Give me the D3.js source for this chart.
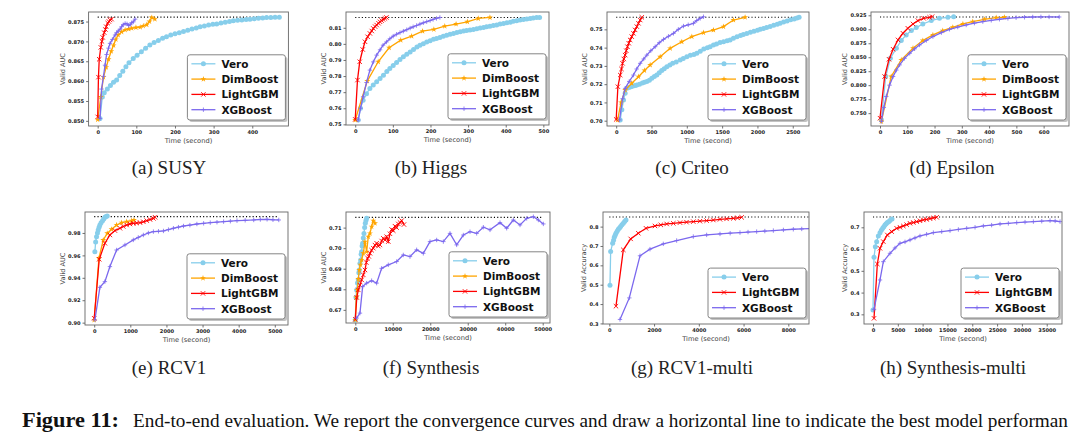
<!DOCTYPE html>
<html><head><meta charset="utf-8">
<script src="https://cdn.jsdelivr.net/npm/d3@7/dist/d3.min.js"></script>
<style>body{margin:0;background:#fff} svg{display:block}</style>
</head><body><svg id="fig" width="1080" height="438"></svg>
<script>
// ---------- series names & colours ----------
const seriesNames = ["Vero", "DimBoost", "LightGBM", "XGBoost"];
const seriesColors = {Vero: "#87CEEB", DimBoost: "#FFA500", LightGBM: "#FF0000", XGBoost: "#7B68EE"};

// ---------- (a) SUSY ----------
const susyVero = [[6,0.8506],[12,0.8560],[17,0.8571],[25,0.8580],[33,0.8589],[41,0.8597],[49,0.8603],[57,0.8614],[65,0.8625],[73,0.8636],[81,0.8646],[92,0.8657],[102,0.8665],[113,0.8674],[124,0.8683],[135,0.8691],[146,0.8697],[157,0.8702],[168,0.8708],[178,0.8712],[189,0.8716],[200,0.8719],[211,0.8722],[222,0.8725],[233,0.8728],[244,0.8731],[255,0.8734],[265,0.8737],[276,0.8739],[287,0.8741],[298,0.8743],[308,0.8744],[319,0.8746],[330,0.8748],[341,0.8750],[351,0.8752],[362,0.8753],[373,0.8754],[384,0.8755],[394,0.8756],[405,0.8757],[416,0.8758],[427,0.8759],[437,0.8760],[448,0.8760],[459,0.8761],[470,0.8761]];
const susyDim = [[0,0.8503],[8,0.8560],[15,0.8610],[22,0.8635],[28,0.8655],[35,0.8675],[41,0.8690],[47,0.8705],[53,0.8716],[62,0.8724],[71,0.8729],[80,0.8731],[88,0.8733],[99,0.8735],[110,0.8736],[118,0.8739],[127,0.8742],[134,0.8750],[140,0.8760],[148,0.8756]];
const susyLgb = [[0,0.8510],[2,0.8610],[4,0.8655],[8,0.8685],[11,0.8700],[13,0.8710],[17,0.8722],[20,0.8730],[22,0.8737],[26,0.8746],[29,0.8750],[32,0.8754],[36,0.8756]];
const susyXgb = [[6,0.8506],[10,0.8580],[15,0.8612],[19,0.8640],[23,0.8667],[28,0.8683],[32,0.8695],[38,0.8705],[45,0.8716],[49,0.8722],[53,0.8726],[58,0.8731],[62,0.8737],[66,0.8742],[71,0.8745],[76,0.8744],[80,0.8740],[84,0.8742],[88,0.8747],[92,0.8749],[97,0.8756]];
const susyXTicks = [0,100,200,300,400];
const susyYTicks = [0.850,0.855,0.860,0.865,0.870,0.875];

// ---------- (b) Higgs ----------
const higgsVero = [[8,0.7527],[14,0.7600],[21,0.7650],[30,0.7690],[39,0.7723],[48,0.7745],[57,0.7765],[66,0.7785],[75,0.7805],[84,0.7828],[92,0.7847],[101,0.7866],[110,0.7885],[119,0.7903],[128,0.7920],[137,0.7935],[146,0.7950],[155,0.7965],[164,0.7980],[172,0.7992],[181,0.8001],[190,0.8012],[199,0.8020],[208,0.8028],[216,0.8034],[225,0.8040],[234,0.8048],[243,0.8053],[252,0.8060],[261,0.8065],[270,0.8070],[279,0.8075],[288,0.8080],[296,0.8083],[305,0.8086],[314,0.8090],[323,0.8094],[332,0.8099],[341,0.8102],[349,0.8106],[358,0.8110],[367,0.8114],[376,0.8118],[385,0.8123],[394,0.8127],[403,0.8131],[412,0.8135],[420,0.8140],[429,0.8144],[438,0.8148],[447,0.8151],[456,0.8155],[465,0.8158],[473,0.8161],[482,0.8164],[490,0.8164]];
const higgsDim = [[0,0.7527],[32,0.7769],[61,0.7889],[90,0.7976],[121,0.8023],[150,0.8048],[179,0.8079],[209,0.8090],[238,0.8110],[268,0.8123],[298,0.8137],[327,0.8158],[358,0.8164]];
const higgsLgb = [[0,0.7531],[6,0.7775],[12,0.7889],[20,0.7965],[26,0.8013],[33,0.8044],[39,0.8065],[44,0.8080],[48,0.8096],[53,0.8107],[57,0.8117],[62,0.8128],[66,0.8137],[70,0.8145],[74,0.8152],[79,0.8158],[83,0.8164]];
const higgsXgb = [[8,0.7527],[14,0.7600],[21,0.7671],[30,0.7760],[39,0.7837],[48,0.7888],[57,0.7930],[66,0.7963],[74,0.7992],[83,0.8012],[92,0.8032],[101,0.8048],[110,0.8060],[119,0.8070],[128,0.8079],[137,0.8088],[146,0.8098],[154,0.8106],[163,0.8114],[172,0.8123],[181,0.8131],[190,0.8138],[199,0.8145],[207,0.8152],[216,0.8158],[225,0.8164]];
const higgsXTicks = [0,100,200,300,400,500];
const higgsYTicks = [0.75,0.76,0.77,0.78,0.79,0.80,0.81];

// ---------- (c) Criteo ----------
const criteoVero = [[57,0.7004],[80,0.7060],[104,0.7113],[127,0.7150],[151,0.7177],[180,0.7182],[210,0.7186],[240,0.7190],[270,0.7193],[292,0.7195],[330,0.7200],[370,0.7206],[400,0.7210],[434,0.7214],[470,0.7222],[505,0.7232],[540,0.7242],[575,0.7250],[610,0.7262],[645,0.7275],[680,0.7285],[717,0.7296],[760,0.7305],[800,0.7315],[850,0.7322],[906,0.7332],[950,0.7340],[1000,0.7350],[1050,0.7358],[1100,0.7363],[1142,0.7369],[1190,0.7380],[1240,0.7392],[1290,0.7400],[1330,0.7405],[1377,0.7414],[1420,0.7420],[1470,0.7428],[1520,0.7432],[1570,0.7438],[1613,0.7442],[1660,0.7452],[1710,0.7460],[1760,0.7466],[1800,0.7472],[1849,0.7478],[1900,0.7484],[1950,0.7490],[2000,0.7495],[2040,0.7500],[2085,0.7505],[2130,0.7510],[2180,0.7516],[2230,0.7522],[2280,0.7528],[2321,0.7533],[2370,0.7540],[2420,0.7546],[2470,0.7552],[2520,0.7557],[2560,0.7562],[2590,0.7566]];
const criteoDim = [[19,0.7004],[70,0.7100],[127,0.7168],[220,0.7205],[316,0.7241],[400,0.7275],[481,0.7305],[623,0.7350],[764,0.7396],[929,0.7432],[1071,0.7460],[1236,0.7482],[1377,0.7496],[1519,0.7515],[1660,0.7551],[1825,0.7566]];
const criteoLgb = [[0,0.7007],[24,0.7186],[57,0.7250],[75,0.7283],[90,0.7314],[108,0.7338],[127,0.7359],[143,0.7383],[160,0.7405],[178,0.7424],[198,0.7442],[220,0.7460],[245,0.7478],[268,0.7497],[292,0.7515],[316,0.7533],[340,0.7551],[363,0.7566]];
const criteoXgb = [[47,0.7004],[90,0.7120],[127,0.7177],[185,0.7215],[245,0.7250],[290,0.7283],[340,0.7314],[390,0.7338],[434,0.7359],[490,0.7383],[552,0.7405],[610,0.7427],[670,0.7445],[740,0.7462],[811,0.7478],[880,0.7500],[953,0.7518],[1020,0.7525],[1094,0.7533],[1140,0.7548],[1189,0.7560],[1236,0.7569]];
const criteoXTicks = [0,500,1000,1500,2000,2500];
const criteoYTicks = [0.70,0.71,0.72,0.73,0.74,0.75];

// ---------- (d) Epsilon ----------
const epsVero = [[5,0.7380],[21,0.8155],[38,0.8482],[60,0.8661],[78,0.8798],[96,0.8899],[115,0.8976],[133,0.9030],[157,0.9095],[188,0.9155],[218,0.9196],[249,0.9214],[270,0.9226]];
const epsDim = [[5,0.7350],[41,0.8155],[78,0.8452],[121,0.8661],[157,0.8798],[194,0.8899],[230,0.8976],[267,0.9036],[304,0.9095],[340,0.9137],[383,0.9179],[426,0.9208],[456,0.9214]];
const epsLgb = [[0,0.7410],[17,0.8155],[33,0.8464],[48,0.8643],[66,0.8810],[84,0.8929],[102,0.9018],[121,0.9095],[139,0.9155],[160,0.9196],[182,0.9214],[191,0.9226]];
const epsXgb = [[5,0.7350],[14,0.7600],[23,0.7798],[35,0.8000],[48,0.8155],[60,0.8270],[72,0.8363],[90,0.8480],[109,0.8571],[127,0.8650],[145,0.8720],[170,0.8800],[194,0.8870],[225,0.8940],[255,0.9000],[285,0.9040],[316,0.9077],[346,0.9110],[377,0.9137],[408,0.9160],[438,0.9179],[469,0.9195],[499,0.9208],[530,0.9215],[560,0.9220],[590,0.9222],[620,0.9221],[657,0.9220]];
const epsXTicks = [0,100,200,300,400,500,600];
const epsYTicks = [0.750,0.775,0.800,0.825,0.850,0.875,0.900,0.925];

// ---------- (e) RCV1 ----------
const rcvVero = [[18,0.9633],[40,0.9720],[65,0.9767],[90,0.9800],[111,0.9827],[135,0.9850],[157,0.9871],[190,0.9890],[231,0.9910],[265,0.9925],[296,0.9940],[330,0.9947],[361,0.9952]];
const rcvDim = [[0,0.9024],[130,0.9574],[250,0.9737],[361,0.9797],[481,0.9833],[620,0.9871],[759,0.9892],[898,0.9901],[1037,0.9910],[1100,0.9915]];
const rcvLgb = [[0,0.9039],[139,0.9565],[296,0.9708],[435,0.9782],[574,0.9821],[713,0.9842],[805,0.9858],[898,0.9871],[990,0.9880],[1083,0.9886],[1176,0.9889],[1269,0.9892],[1360,0.9900],[1454,0.9910],[1545,0.9920],[1639,0.9930],[1685,0.9940]];
const rcvXgb = [[19,0.9024],[157,0.9315],[296,0.9366],[435,0.9500],[620,0.9648],[852,0.9693],[1083,0.9738],[1220,0.9760],[1361,0.9782],[1500,0.9800],[1639,0.9812],[1780,0.9815],[1917,0.9818],[2055,0.9830],[2194,0.9842],[2333,0.9852],[2472,0.9862],[2650,0.9870],[2843,0.9880],[3030,0.9886],[3213,0.9892],[3400,0.9896],[3583,0.9901],[3770,0.9905],[3954,0.9910],[4180,0.9913],[4417,0.9916],[4600,0.9920],[4787,0.9922],[4950,0.9918],[5111,0.9916]];
const rcvXTicks = [0,1000,2000,3000,4000,5000];
const rcvYTicks = [0.90,0.92,0.94,0.96,0.98];

// ---------- (f) Synthesis ----------
const synVero = [[0,0.6651],[178,0.6760],[356,0.6797],[580,0.6830],[800,0.6846],[940,0.6880],[1068,0.6894],[1250,0.6925],[1423,0.6943],[1560,0.6970],[1690,0.6983],[1820,0.7010],[1957,0.7024],[2130,0.7050],[2313,0.7072],[2490,0.7100],[2669,0.7121],[2850,0.7135],[3025,0.7145]];
const synDim = [[0,0.6651],[267,0.6760],[534,0.6797],[800,0.6850],[1068,0.6894],[1380,0.6920],[1690,0.6943],[2135,0.6975],[2580,0.7032],[3025,0.6983],[3470,0.7056],[3915,0.7072],[4359,0.7105],[4804,0.7134],[5249,0.7121]];
const synLgb = [[0,0.6654],[400,0.6760],[800,0.6797],[1250,0.6820],[1690,0.6846],[2135,0.6870],[2580,0.6894],[2940,0.6930],[3292,0.6951],[3600,0.6960],[3915,0.6975],[4359,0.6990],[4804,0.7000],[5249,0.7015],[5694,0.7024],[6140,0.7010],[6584,0.7016],[7028,0.7035],[7473,0.7048],[7918,0.7040],[8363,0.7056],[8808,0.7032],[9250,0.7070],[9698,0.7091],[10140,0.7085],[10587,0.7107],[11030,0.7100],[11477,0.7118],[11920,0.7125],[12367,0.7134],[12989,0.7115]];
const synXgb = [[356,0.6660],[1246,0.6684],[1957,0.6813],[3025,0.6830],[4359,0.6842],[5694,0.6830],[7028,0.6902],[8808,0.6919],[11032,0.6935],[12811,0.6967],[14591,0.6959],[16370,0.6992],[18149,0.6975],[19929,0.7032],[21708,0.7040],[23488,0.7032],[25267,0.7072],[27046,0.7016],[28826,0.7064],[30605,0.7080],[32384,0.7072],[34164,0.7102],[35943,0.7089],[38612,0.7124],[40391,0.7097],[42171,0.7137],[43950,0.7113],[45730,0.7145],[47509,0.7153],[48844,0.7137],[50178,0.7118]];
const synXTicks = [0,10000,20000,30000,40000,50000];
const synYTicks = [0.67,0.68,0.69,0.70,0.71];

// ---------- (g) RCV1-multi ----------
const rcvmVero = [[30,0.4970],[60,0.6716],[149,0.7144],[190,0.7300],[223,0.7452],[260,0.7560],[298,0.7658],[350,0.7760],[402,0.7863],[455,0.7930],[507,0.8000],[565,0.8090],[626,0.8171],[685,0.8260],[745,0.8342]];
const rcvmLgb = [[298,0.3890],[626,0.6801],[954,0.7366],[1296,0.7658],[1639,0.7914],[2041,0.8034],[2300,0.8090],[2563,0.8137],[2860,0.8170],[3159,0.8205],[3450,0.8230],[3754,0.8257],[4050,0.8280],[4350,0.8308],[4650,0.8340],[4946,0.8377],[5240,0.8400],[5542,0.8428],[5730,0.8450],[5914,0.8479]];
const rcvmXgb = [[477,0.3205],[894,0.4318],[1371,0.6493],[1818,0.6836],[2413,0.7110],[3009,0.7281],[3754,0.7486],[4350,0.7572],[4946,0.7623],[5400,0.7660],[5840,0.7692],[6200,0.7720],[6585,0.7743],[6950,0.7770],[7330,0.7795],[7780,0.7830],[8223,0.7863],[8600,0.7880],[8968,0.7897]];
const rcvmXTicks = [0,2000,4000,6000,8000];
const rcvmYTicks = [0.3,0.4,0.5,0.6,0.7,0.8];

// ---------- (h) Synthesis-multi ----------
const synmVero = [[0,0.3200],[202,0.5621],[470,0.6111],[739,0.6341],[1075,0.6602],[1411,0.6755],[1680,0.6860],[1948,0.6954],[2180,0.7030],[2418,0.7107],[2650,0.7160],[2889,0.7215],[3150,0.7260],[3426,0.7307],[3829,0.7383]];
const synmLgb = [[202,0.2816],[873,0.5314],[1411,0.6034],[2083,0.6341],[2889,0.6648],[3762,0.6801],[4770,0.6954],[5440,0.7000],[6113,0.7061],[6780,0.7120],[7457,0.7184],[8130,0.7220],[8800,0.7261],[9470,0.7300],[10144,0.7337],[10810,0.7360],[11488,0.7398],[12160,0.7430],[12831,0.7460]];
const synmXgb = [[202,0.3230],[1411,0.4579],[2083,0.5421],[3426,0.5805],[4430,0.6050],[5441,0.6264],[6450,0.6330],[7457,0.6418],[8460,0.6510],[9472,0.6602],[10800,0.6680],[12159,0.6755],[13840,0.6800],[15518,0.6847],[17200,0.6900],[18877,0.6954],[20560,0.7000],[22236,0.7061],[23900,0.7100],[25595,0.7153],[27270,0.7180],[28954,0.7215],[30630,0.7240],[32313,0.7261],[34000,0.7280],[35672,0.7307],[36700,0.7290],[37687,0.7261]];
const synmXTicks = [0,5000,10000,15000,20000,25000,30000,35000];
const synmYTicks = [0.3,0.4,0.5,0.6,0.7];

// ---------- best-performance reference values ----------
const bestValues = {a:0.8761, b:0.8164, c:0.7566, d:0.9220, e:0.9946, f:0.7150, g:0.8500, h:0.7470};

const captionTexts = ["(a) SUSY","(b) Higgs","(c) Criteo","(d) Epsilon","(e) RCV1","(f) Synthesis","(g) RCV1-multi","(h) Synthesis-multi"];
const figureLabel = "Figure 11:";
const figureText = "End-to-end evaluation. We report the convergence curves and draw a horizontal line to indicate the best model performan";

// ---------- panel layout (positions/sizes) ----------
const panels = [
  {id:"a", box:[88.6,288.4,12,126], capX:169, xDom:[-23.5,493.5], yDom:[0.8487,0.8774], yFmt:".3f", ylabel:"Valid AUC",
   xTicks:susyXTicks, yTicks:susyYTicks, series:{Vero:susyVero, DimBoost:susyDim, LightGBM:susyLgb, XGBoost:susyXgb}},
  {id:"b", box:[346,549,12,125], capX:431, xDom:[-24.5,515], yDom:[0.7496,0.8198], yFmt:".2f", ylabel:"Valid AUC",
   xTicks:higgsXTicks, yTicks:higgsYTicks, series:{Vero:higgsVero, DimBoost:higgsDim, LightGBM:higgsLgb, XGBoost:higgsXgb}},
  {id:"c", box:[607,809,12,126], capX:692, xDom:[-130,2730], yDom:[0.6971,0.7595], yFmt:".2f", ylabel:"Valid AUC",
   xTicks:criteoXTicks, yTicks:criteoYTicks, series:{Vero:criteoVero, DimBoost:criteoDim, LightGBM:criteoLgb, XGBoost:criteoXgb}},
  {id:"d", box:[871,1069,12,126], capX:952, xDom:[-33,693], yDom:[0.7270,0.9309], yFmt:".3f", ylabel:"Valid AUC",
   xTicks:epsXTicks, yTicks:epsYTicks, series:{Vero:epsVero, DimBoost:epsDim, LightGBM:epsLgb, XGBoost:epsXgb}},
  {id:"e", box:[85,288,212,325], capX:169, xDom:[-255,5366], yDom:[0.8979,0.9987], yFmt:".2f", ylabel:"Valid AUC",
   xTicks:rcvXTicks, yTicks:rcvYTicks, series:{Vero:rcvVero, DimBoost:rcvDim, LightGBM:rcvLgb, XGBoost:rcvXgb}},
  {id:"f", box:[346,550,212,323], capX:431, xDom:[-2481,51950], yDom:[0.6636,0.7176], yFmt:".2f", ylabel:"Valid AUC",
   xTicks:synXTicks, yTicks:synYTicks, series:{Vero:synVero, DimBoost:synDim, LightGBM:synLgb, XGBoost:synXgb}},
  {id:"g", box:[603,809,212,324], capX:692, xDom:[-282,8924], yDom:[0.297,0.8755], yFmt:".1f", ylabel:"Valid Accuracy",
   xTicks:rcvmXTicks, yTicks:rcvmYTicks, series:{Vero:rcvmVero, LightGBM:rcvmLgb, XGBoost:rcvmXgb}},
  {id:"h", box:[864,1062,212,324], capX:953, xDom:[-1813,38080], yDom:[0.2556,0.7703], yFmt:".1f", ylabel:"Valid Accuracy",
   xTicks:synmXTicks, yTicks:synmYTicks, series:{Vero:synmVero, LightGBM:synmLgb, XGBoost:synmXgb}}
];

const svg = d3.select("#fig");
svg.append("rect").attr("width",1080).attr("height",438).attr("fill","#fff");
const defs = svg.append("defs");

function drawMarker(sel, name, cx, cy) {
  const c = seriesColors[name];
  if (name === "Vero") {
    sel.append("circle").attr("cx",cx).attr("cy",cy).attr("r",2.5).attr("fill",c);
  } else if (name === "DimBoost") {
    sel.append("path").attr("transform",`translate(${cx},${cy})`)
      .attr("d", d3.symbol(d3.symbolStar, 11)()).attr("fill",c);
  } else if (name === "LightGBM") {
    sel.append("path").attr("transform",`translate(${cx},${cy})`)
      .attr("d","M-2.2,-2.2L2.2,2.2M-2.2,2.2L2.2,-2.2").attr("stroke",c).attr("stroke-width",0.9).attr("fill","none");
  } else {
    sel.append("path").attr("transform",`translate(${cx},${cy})`)
      .attr("d","M-2.2,0H2.2M0,-2.2V2.2").attr("stroke",c).attr("stroke-width",0.8).attr("fill","none");
  }
}

function styleAxis(g) {
  g.select(".domain").remove();
  g.selectAll(".tick line").attr("stroke","#333").attr("stroke-width",0.7);
  g.selectAll(".tick text").attr("font-family","DejaVu Sans").attr("font-weight","bold")
    .attr("font-size","5.1px").attr("fill","#222");
}

panels.forEach((p, i) => {
  const [L, R, T, B] = p.box;
  const x = d3.scaleLinear().domain(p.xDom).range([L, R]);
  const y = d3.scaleLinear().domain(p.yDom).range([B, T]);
  const names = seriesNames.filter(n => p.series[n]);
  const g = svg.append("g");

  defs.append("clipPath").attr("id","clip"+p.id)
    .append("rect").attr("x",L).attr("y",T).attr("width",R-L).attr("height",B-T);

  // axes
  g.append("g").attr("transform",`translate(0,${B})`)
    .call(d3.axisBottom(x).tickValues(p.xTicks).tickSize(2.5).tickPadding(2).tickFormat(d3.format("d")))
    .call(styleAxis);
  const yAx = g.append("g").attr("transform",`translate(${L},0)`)
    .call(d3.axisLeft(y).tickValues(p.yTicks).tickSize(2.5).tickPadding(2).tickFormat(d3.format(p.yFmt)))
    .call(styleAxis);

  const plot = g.append("g").attr("clip-path",`url(#clip${p.id})`);

  // best performance dotted line
  const maxX = d3.max(names, n => d3.max(p.series[n], d => d[0]));
  plot.append("line").attr("x1",x(0)).attr("x2",x(maxX))
    .attr("y1",y(bestValues[p.id])).attr("y2",y(bestValues[p.id]))
    .attr("stroke","#000").attr("stroke-width",1.1).attr("stroke-dasharray","1.1,2.2");

  // series
  const line = d3.line().x(d => x(d[0])).y(d => y(d[1]));
  names.forEach(n => {
    const data = p.series[n];
    plot.append("path").datum(data).attr("d",line).attr("fill","none")
      .attr("stroke",seriesColors[n]).attr("stroke-width",1.3);
    const mg = plot.append("g");
    data.forEach(d => drawMarker(mg, n, x(d[0]), y(d[1])));
  });

  // frame
  g.append("rect").attr("x",L).attr("y",T).attr("width",R-L).attr("height",B-T)
    .attr("fill","none").attr("stroke","#666").attr("stroke-width",0.9);

  // axis labels
  const yb = yAx.node().getBBox();
  g.append("text").attr("transform",`translate(${L + yb.x - 3},${(T+B)/2}) rotate(-90)`)
    .attr("text-anchor","middle").attr("font-family","DejaVu Sans").attr("font-size","6.6px")
    .attr("fill","#444").text(p.ylabel);
  g.append("text").attr("x",(L+R)/2).attr("y",B+17).attr("text-anchor","middle")
    .attr("font-family","DejaVu Sans").attr("font-size","6.7px").attr("fill","#444").text("Time (second)");

  // legend
  const rowH = 15.3, lw = 98, lh = names.length*rowH + 4;
  const lx = R - 3 - lw, ly = B - 6 - lh;
  const lg = g.append("g");
  lg.append("rect").attr("x",lx+2).attr("y",ly+2).attr("width",lw).attr("height",lh).attr("rx",2.5)
    .attr("fill","#888").attr("opacity",0.5);
  lg.append("rect").attr("x",lx).attr("y",ly).attr("width",lw).attr("height",lh).attr("rx",2.5)
    .attr("fill","#fff").attr("stroke","#777").attr("stroke-width",0.9);
  names.forEach((n, k) => {
    const cy = ly + 9 + k*rowH;
    lg.append("line").attr("x1",lx+4).attr("x2",lx+28).attr("y1",cy).attr("y2",cy)
      .attr("stroke",seriesColors[n]).attr("stroke-width",1.3);
    drawMarker(lg, n, lx+16, cy);
    lg.append("text").attr("x",lx+34).attr("y",cy+3.8).attr("font-family","DejaVu Sans")
      .attr("font-weight","bold").attr("font-size","10.5px").attr("fill","#111").text(n);
  });

  // sub-caption
  const capY = T < 100 ? 174 : 374;
  svg.append("text").attr("x",p.capX).attr("y",capY).attr("text-anchor","middle")
    .attr("font-family","Liberation Serif").attr("font-size","19px").attr("fill","#222")
    .text(captionTexts[i]);
});

// figure caption
svg.append("text").attr("x",22).attr("y",427).attr("font-family","Liberation Serif")
  .attr("font-size","20px").attr("font-weight","bold").attr("fill","#111")
  .attr("textLength",97).attr("lengthAdjust","spacingAndGlyphs").text(figureLabel);
svg.append("text").attr("x",133).attr("y",427).attr("font-family","Liberation Serif")
  .attr("font-size","19px").attr("fill","#111")
  .attr("textLength",935).attr("lengthAdjust","spacingAndGlyphs").text(figureText);
</script>
</body></html>
